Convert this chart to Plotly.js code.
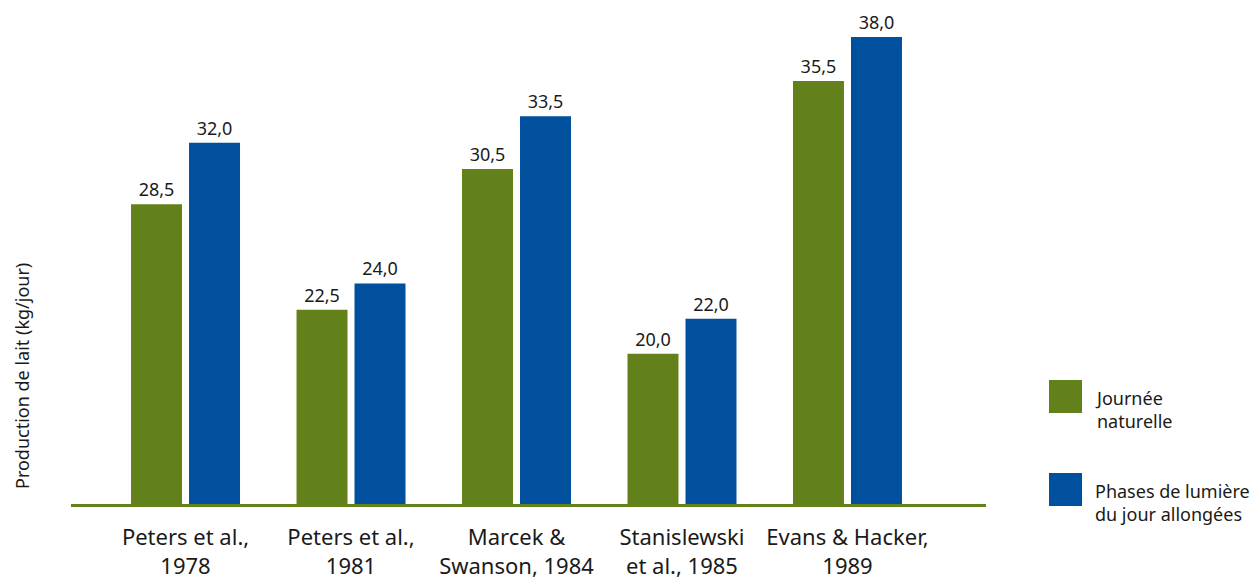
<!DOCTYPE html>
<html>
<head>
<meta charset="utf-8">
<script src="https://cdn.plot.ly/plotly-3.0.1.min.js"></script>
<style>html,body{margin:0;padding:0;background:#fff;}#chart{width:1253px;height:585px;}</style>
</head>
<body>
<div id="chart"></div>
<script>
const categories = ["Peters et al.,<br>1978", "Peters et al.,<br>1981", "Marcek &<br>Swanson, 1984", "Stanislewski<br>et al., 1985", "Evans & Hacker,<br>1989"];
const seriesNames = ["Journée<br>naturelle", "Phases de lumière<br>du jour allongées"];
const naturalDay = [28.5, 22.5, 30.5, 20.0, 35.5];
const extendedLight = [32.0, 24.0, 33.5, 22.0, 38.0];
const yTitle = "Production de lait (kg/jour)";

const colors = ["#63811a", "#00509e"];
const FONT = "Noto Sans, Open Sans, sans-serif";
const W = 1253, H = 585;
const L = 71, R = 986, T = 5, B = 504;
function px(x){ return (x - L) / (R - L); }
function py(y){ return (B - y) / (B - T); }

const traces = [naturalDay, extendedLight].map((vals, i) => ({
  type: "bar",
  x: categories,
  y: vals,
  name: seriesNames[i],
  marker: {color: colors[i]},
  texttemplate: "%{y:.1f}",
  textposition: "outside",
  textfont: {family: FONT, size: 18, color: "#1a1a1a"},
  hoverinfo: "skip"
}));

const shapes = [], annotations = [];
const legendSq = [[380, 413], [473, 506]];
const legendTextY = [409, 502];
seriesNames.forEach((n, i) => {
  shapes.push({type: "rect", xref: "paper", yref: "paper",
    x0: px(1049), x1: px(1082), y0: py(legendSq[i][1]), y1: py(legendSq[i][0]),
    fillcolor: colors[i], line: {width: 0}});
  annotations.push({xref: "paper", yref: "paper", x: px(1093), y: py(legendTextY[i]),
    xanchor: "left", yanchor: "middle", align: "left", showarrow: false, text: n,
    font: {family: FONT, size: 18, color: "#1a1a1a"}});
});
annotations.push({xref: "paper", yref: "paper", x: px(22), y: py(376), xanchor: "center", yanchor: "middle",
  textangle: -90, showarrow: false, text: yTitle, font: {family: FONT, size: 18, color: "#1a1a1a"}});

const ymin = 11.47, pxPerUnit = 17.6;
const layout = {
  width: W, height: H,
  margin: {l: L, r: W - R, t: T, b: H - B, pad: 0},
  paper_bgcolor: "#fff", plot_bgcolor: "#fff",
  separators: ", ",
  showlegend: false,
  barmode: "group",
  bargap: 0.299,
  bargroupgap: 0.121,
  font: {family: FONT, color: "#1a1a1a"},
  xaxis: {type: "category", range: [-0.692, 4.837], showgrid: false, zeroline: false,
    showline: true, linecolor: colors[0], linewidth: 3, ticks: "", ticklabelstandoff: 12,
    tickfont: {family: FONT, size: 22, color: "#1a1a1a"}, automargin: false},
  yaxis: {range: [ymin, ymin + (B - T) / pxPerUnit], visible: false, fixedrange: true},
  shapes: shapes,
  annotations: annotations
};
Plotly.newPlot("chart", traces, layout, {displayModeBar: false, staticPlot: true});
</script>
</body>
</html>
